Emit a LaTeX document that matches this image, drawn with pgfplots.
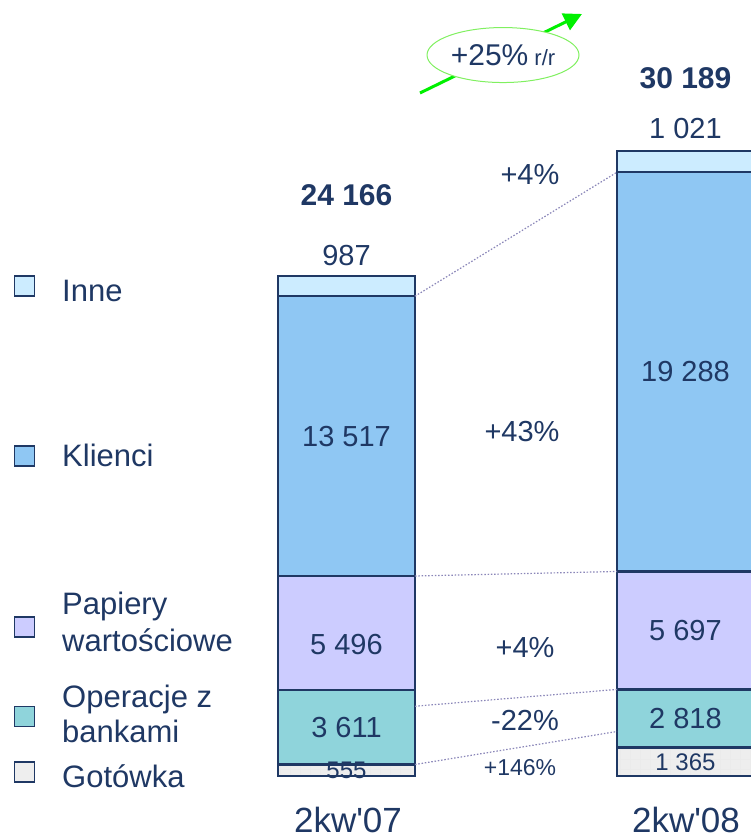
\documentclass[border=0pt]{standalone}
\usepackage{fontspec}
\setmainfont{Liberation Sans}
\usepackage{pgfplots}
\pgfplotsset{compat=1.18}
\usetikzlibrary{arrows.meta,shapes.geometric,patterns.meta}
\definecolor{navy}{HTML}{1F3864}
\definecolor{cInne}{HTML}{CCECFF}
\definecolor{cKlienci}{HTML}{8FC7F3}
\definecolor{cPapiery}{HTML}{CCCCFF}
\definecolor{cOper}{HTML}{8FD4DB}
\definecolor{cGot}{HTML}{EEEEEE}
\definecolor{cDot}{HTML}{8A86B8}
\definecolor{cGreen}{HTML}{00F000}
\definecolor{cEll}{HTML}{80F060}
\newcommand{\fs}[1]{\fontsize{#1}{#1}\selectfont}
\pgfplotsset{base/.style={at={(0pt,0pt)}, anchor=south west, scale only axis,
  width=751pt, height=839pt, xmin=0, xmax=751, ymin=-3043.5, ymax=37487.9,
  hide axis, clip=false}}
\begin{document}
\begin{tikzpicture}
\useasboundingbox (0,0) rectangle (751pt,839pt);
% stacked bars
\begin{axis}[base, ybar stacked, bar width=137,
  every axis plot/.append style={draw=navy, line width=2.5pt}]
\addplot[fill=cGot, postaction={pattern={Hatch[angle=0,distance=10pt,line width=0.5pt]}, pattern color=gray!16}]
  coordinates {(346.5,555) (685.5,1365)};
\addplot[fill=cOper] coordinates {(346.5,3611) (685.5,2818)};
\addplot[fill=cPapiery] coordinates {(346.5,5496) (685.5,5697)};
\addplot[fill=cKlienci] coordinates {(346.5,13517) (685.5,19288)};
\addplot[fill=cInne] coordinates {(346.5,987) (685.5,1021)};
\end{axis}
% overlay: lines, legend, labels
\begin{axis}[base]
\addplot[cDot, line width=1.2pt, dash pattern=on 1.5pt off 1.8pt] coordinates {(415,23179) (617,29168)};
\addplot[cDot, line width=1.2pt, dash pattern=on 1.5pt off 1.8pt] coordinates {(415,9662) (617,9880)};
\addplot[cDot, line width=1.2pt, dash pattern=on 1.5pt off 1.8pt] coordinates {(415,3370) (617,4183)};
\addplot[cDot, line width=1.2pt, dash pattern=on 1.5pt off 1.8pt] coordinates {(415,555) (617,2150)};
% growth arrow
\addplot[cGreen, line width=3pt, -{Triangle[length=18pt,width=18pt]}] coordinates {(420,32995) (582,36812)};
% legend squares
\addplot[only marks, mark=square*, mark size=10pt, mark options={fill=cInne, draw=navy, line width=1.5pt}] coordinates {(24.5,23672)};
\addplot[only marks, mark=square*, mark size=10pt, mark options={fill=cKlienci, draw=navy, line width=1.5pt}] coordinates {(24.5,15459)};
\addplot[only marks, mark=square*, mark size=10pt, mark options={fill=cPapiery, draw=navy, line width=1.5pt}] coordinates {(24.5,7198)};
\addplot[only marks, mark=square*, mark size=10pt, mark options={fill=cOper, draw=navy, line width=1.5pt}] coordinates {(24.5,2875)};
\addplot[only marks, mark=square*, mark size=10pt, mark options={fill=cGot, draw=navy, line width=1.5pt}] coordinates {(24.5,193)};
% legend text
\begin{scope}[every node/.style={text=navy, anchor=base west, font=\fs{31}, inner sep=0pt}]
\node at (rel axis cs:0.0826,0.6401) {Inne};
\node at (rel axis cs:0.0826,0.4434) {Klienci};
\node at (rel axis cs:0.0826,0.2670) {Papiery};
\node at (rel axis cs:0.0826,0.2229) {wartościowe};
\node at (rel axis cs:0.0826,0.1573) {Operacje z};
\node at (rel axis cs:0.0826,0.1156) {bankami};
\node at (rel axis cs:0.0826,0.0608) {Gotówka};
\end{scope}
% segment labels
\begin{scope}[every node/.style={text=navy, font=\fs{29}, inner sep=0pt}]
\node[font=\fs{24}] at (axis cs:346.5,277.5) {555};
\node at (axis cs:346.5,2360.5) {3 611};
\node[yshift=-12pt] at (axis cs:346.5,6914) {5 496};
\node at (axis cs:346.5,16420.5) {13 517};
\node[yshift=20pt] at (axis cs:346.5,24166) {987};
\node[yshift=81pt, font=\bfseries\fs{30}] at (axis cs:346.5,24166) {24 166};
\node[font=\fs{24}] at (axis cs:685.5,682.5) {1 365};
\node at (axis cs:685.5,2774) {2 818};
\node at (axis cs:685.5,7031.5) {5 697};
\node at (axis cs:685.5,19524) {19 288};
\node[yshift=23pt] at (axis cs:685.5,30189) {1 021};
\node[yshift=73pt, font=\bfseries\fs{30}] at (axis cs:685.5,30189) {30 189};
% change labels
\node at (rel axis cs:0.7057,0.7914) {+4\%};
\node at (rel axis cs:0.6951,0.4851) {+43\%};
\node at (rel axis cs:0.6991,0.2288) {+4\%};
\node at (rel axis cs:0.6991,0.1418) {-22\%};
\node[font=\fs{23}] at (rel axis cs:0.6924,0.0846) {+146\%};
% categories
\node[font=\fs{35}] at (rel axis cs:0.4634,0.0226) {2kw\textquotesingle 07};
\node[font=\fs{35}] at (rel axis cs:0.9134,0.0226) {2kw\textquotesingle 08};
\end{scope}
\node[ellipse, draw=cEll, fill=white, line width=1pt, minimum width=152pt, minimum height=55pt, inner sep=0pt, text=navy]
  at (rel axis cs:0.6698,0.9344) {\fs{30}+25\%\fs{22} r/r};
\end{axis}
\end{tikzpicture}
\end{document}
